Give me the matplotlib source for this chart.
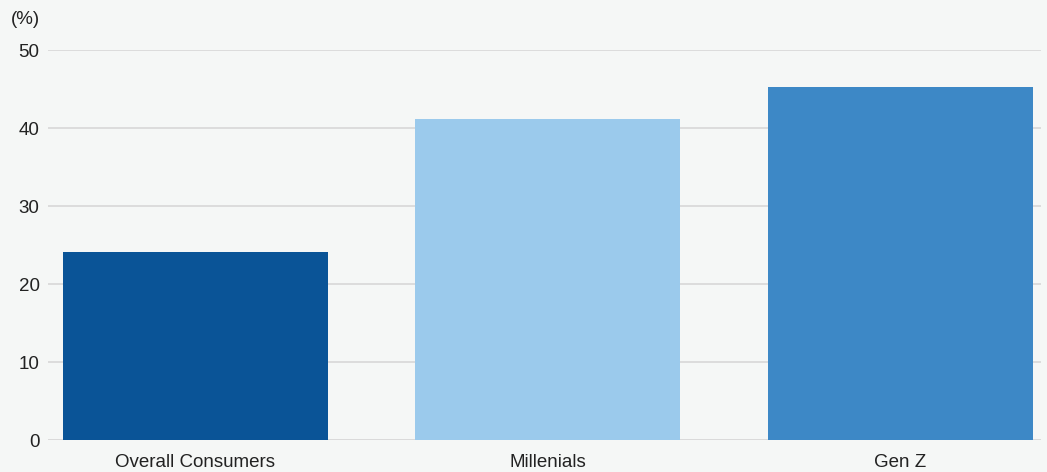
import matplotlib
matplotlib.use("Agg")
import matplotlib.pyplot as plt

categories = ["Overall Consumers", "Millenials", "Gen Z"]
values = [24.1, 41.2, 45.3]
colors = ["#0a5497", "#9bcaec", "#3d88c6"]
yticks = [0, 10, 20, 30, 40, 50]

plt.rcParams['font.family'] = ['Liberation Sans', 'DejaVu Sans']
bg = "#f5f7f6"
fig = plt.figure(figsize=(10.47, 4.72), dpi=100, facecolor=bg)
ax = fig.add_axes([48/1047, 1-440.3/472, (1041-48)/1047, 390/472], facecolor=bg)

x = list(range(len(categories)))
ax.bar(x, values, width=0.752, color=colors, zorder=3)
ax.set_xlim(-0.418, 2.399)
ax.set_ylim(0, 50)
ax.set_yticks(yticks)
ax.set_yticklabels([str(t) for t in yticks], fontsize=13.5, color="#222222")
ax.set_xticks(x)
ax.set_xticklabels(categories, fontsize=13.5, color="#222222")
ax.yaxis.grid(True, color="#dadada", linewidth=1.3, zorder=0)
ax.tick_params(axis='both', length=0)
ax.tick_params(axis='y', pad=6)
ax.tick_params(axis='x', pad=10)
for s in ax.spines.values():
    s.set_visible(False)
ax.axhline(0, color="#dadada", linewidth=1.3, zorder=2)
fig.text(11/1047, 1-20/472, "(%)", fontsize=13.5, color="#222222", va="center", ha="left")

fig.savefig("out.png", dpi=100, facecolor=bg)
